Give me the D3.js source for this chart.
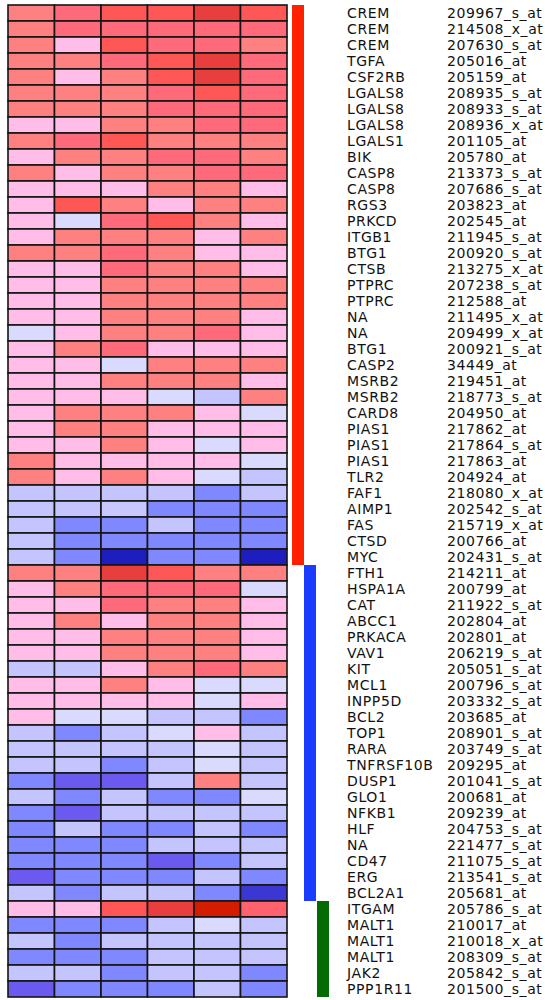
<!DOCTYPE html>
<html>
<head>
<meta charset="utf-8">
<script src="https://cdn.jsdelivr.net/npm/d3@7"></script>
<style>
  html, body { margin: 0; padding: 0; background: #ffffff; }
  svg { display: block; }
  text { font-family: "DejaVu Sans", Verdana, sans-serif; font-size: 14px; letter-spacing: 0.6px; fill: #111; }
</style>
</head>
<body>
<svg id="chart" width="545" height="1000"></svg>
<script>
// Gene symbols, one per heatmap row
const genes = [
  "CREM","CREM","CREM","TGFA","CSF2RB","LGALS8","LGALS8","LGALS8","LGALS1","BIK",
  "CASP8","CASP8","RGS3","PRKCD","ITGB1","BTG1","CTSB","PTPRC","PTPRC","NA",
  "NA","BTG1","CASP2","MSRB2","MSRB2","CARD8","PIAS1","PIAS1","PIAS1","TLR2",
  "FAF1","AIMP1","FAS","CTSD","MYC",
  "FTH1","HSPA1A","CAT","ABCC1","PRKACA","VAV1","KIT","MCL1","INPP5D","BCL2",
  "TOP1","RARA","TNFRSF10B","DUSP1","GLO1","NFKB1","HLF","NA","CD47","ERG","BCL2A1",
  "ITGAM","MALT1","MALT1","MALT1","JAK2","PPP1R11"
];

// Affymetrix probe set IDs, same order
const probes = [
  "209967_s_at","214508_x_at","207630_s_at","205016_at","205159_at","208935_s_at","208933_s_at","208936_x_at","201105_at","205780_at",
  "213373_s_at","207686_s_at","203823_at","202545_at","211945_s_at","200920_s_at","213275_x_at","207238_s_at","212588_at","211495_x_at",
  "209499_x_at","200921_s_at","34449_at","219451_at","218773_s_at","204950_at","217862_at","217864_s_at","217863_at","204924_at",
  "218080_x_at","202542_s_at","215719_x_at","200766_at","202431_s_at",
  "214211_at","200799_at","211922_s_at","202804_at","202801_at","206219_s_at","205051_s_at","200796_s_at","203332_s_at","203685_at",
  "208901_s_at","203749_s_at","209295_at","201041_s_at","200681_at","209239_at","204753_s_at","221477_s_at","211075_s_at","213541_s_at","205681_at",
  "205786_s_at","210017_at","210018_x_at","208309_s_at","205842_s_at","201500_s_at"
];

// Cluster membership of each row (1 = red, 2 = blue, 3 = green)
const clusters = [
  1,1,1,1,1,1,1,1,1,1, 1,1,1,1,1,1,1,1,1,1, 1,1,1,1,1,1,1,1,1,1, 1,1,1,1,1,
  2,2,2,2,2,2,2,2,2,2, 2,2,2,2,2,2,2,2,2,2,2,
  3,3,3,3,3,3
];

const samples = ["S1","S2","S3","S4","S5","S6"];

// Relative expression (log scale), one row per probe set, one column per sample
const values = [
  [1,1.5,2,2,2.5,2],
  [1,1.5,1.5,1.5,1.5,1.5],
  [1,0,2,1.5,1.5,1],
  [1,1,1.5,2,2.5,1.5],
  [1,0,1,2,2.5,1.5],
  [1,1,1,1.5,2,1.5],
  [1,1,1,1.5,1.5,1.5],
  [0,0,1,1,1.5,1.5],
  [1,1.5,2,1,1,1],
  [0,1,1,1.5,1.5,1],
  [1,0,1,1,1.5,1.5],
  [0,0,0,1,1,0],
  [0,2,1,0,1,1],
  [0,-0.5,1.5,2,1,0],
  [0,1,1,1,0,1],
  [1,1,1.5,1,0,0],
  [0,0,1.5,1,1,0],
  [0,0,1,1,1,1],
  [0,0,1,1,1,1],
  [0,0,1,1,1,0],
  [-0.5,0,1,1,1.5,0],
  [0,1,1.5,0,0,0],
  [0,0,-0.5,1,1,1],
  [0,0,1,1,1,0],
  [0,0,0,-0.5,-1,1],
  [0,1,1,1,0,-0.5],
  [0,1,1,0,0,0],
  [0,0,1,0,-0.5,0],
  [1,0,0,0,0,-0.5],
  [1,0,1,0,-0.5,-1],
  [-1,-1,-1,-1,-1.5,-1],
  [-1,-1,-0.9,-1.5,-1.5,-1.5],
  [-1,-1.5,-1.5,-1,-1.5,-1.5],
  [-1,-1.5,-1.5,-1.5,-1.5,-1.5],
  [-1,-1.5,-3,-1.5,-1.5,-3],
  [1,1,2.5,2,1,1],
  [0,1,1.5,1.5,1.5,-0.5],
  [0,0,1.5,1,1,0],
  [0,1,0,1,1,0],
  [0,0,1,1,1,0],
  [0,0,1,1,1,0],
  [-1,-1,0,1,1.5,1],
  [0,0,1,0,-0.5,-0.5],
  [0,0,0,0,-0.5,0],
  [0,-0.5,-0.5,-1,-1,-1.5],
  [-1,-1.5,-1,-0.5,0,-1],
  [-1,-1,-1,-1,-0.5,-1],
  [-1,-1,-1.5,-1,-0.5,-1],
  [-1.5,-2,-2,-1,1,-1],
  [-1,-1.5,-1,-1.5,-1.5,-0.5],
  [-1.5,-2,-1,-1,-1,-1],
  [-1.5,-1,-1.5,-1.5,-1,-1.5],
  [-1.5,-1.5,-1.5,-1,-1,-1],
  [-1.5,-1.5,-1.5,-2,-1.5,-1],
  [-2,-1.5,-1.5,-1.5,-1,-1.5],
  [-1,-1.5,-1,-1,-1.5,-2.6],
  [0,0,2,2.5,3,1.7],
  [-1.5,-1.5,-1.5,-1,-0.5,-1],
  [-1,-1.5,-1,-1,-1,-1],
  [-1.5,-1.5,-1.5,-1,-1,-1],
  [-1,-1,-1.5,-1,-1,-1.5],
  [-2,-1.5,-1.5,-1.5,-1,-1.5]
];

const clusterColors = ["#ff2000", "#1a3cff", "#036b03"];

const svg = d3.select("#chart");

const x = d3.scaleBand().domain(samples).range([8, 287]);
const y = d3.scaleBand().domain(d3.range(genes.length)).range([5, 997]);

const color = d3.scaleLinear()
  .domain([-3, -2, -1.5, -1, -0.5, 0, 1, 1.5, 2, 2.5, 3])
  .range(["#1e1ebe", "#6a5af0", "#8088ff", "#c4c4ff", "#dadaff", "#ffbde8",
          "#ff8080", "#ff6a7a", "#ff5656", "#e83e3e", "#d41c00"])
  .clamp(true);

// heatmap cells
const cells = [];
values.forEach((row, i) => row.forEach((v, j) => cells.push({ i, j, v })));

svg.append("g")
  .selectAll("rect")
  .data(cells)
  .join("rect")
  .attr("x", d => x(samples[d.j]))
  .attr("y", d => y(d.i))
  .attr("width", x.bandwidth())
  .attr("height", y.bandwidth())
  .attr("fill", d => color(d.v))
  .attr("stroke", "#151515")
  .attr("stroke-width", 1.6);

// cluster side bars, staggered to the right
const groups = d3.groups(d3.range(genes.length), i => clusters[i]).map(([c, idx]) => ({
  c, first: d3.min(idx), last: d3.max(idx)
}));
const barX = d3.scaleOrdinal().domain([1, 2, 3]).range([292, 304, 317]);

svg.append("g")
  .selectAll("rect")
  .data(groups)
  .join("rect")
  .attr("x", d => barX(d.c))
  .attr("y", d => y(d.first))
  .attr("width", 12)
  .attr("height", d => y(d.last) + y.bandwidth() - y(d.first))
  .attr("fill", d => clusterColors[d.c - 1]);

// row labels: gene symbol and probe set
const labels = svg.append("g");
labels.selectAll("text.gene")
  .data(genes)
  .join("text")
  .attr("class", "gene")
  .attr("x", 347)
  .attr("y", (d, i) => y(i) + y.bandwidth() / 2)
  .attr("dy", "0.36em")
  .text(d => d);

labels.selectAll("text.probe")
  .data(probes)
  .join("text")
  .attr("class", "probe")
  .attr("x", 447)
  .attr("y", (d, i) => y(i) + y.bandwidth() / 2)
  .attr("dy", "0.36em")
  .text(d => d);
</script>
</body>
</html>
